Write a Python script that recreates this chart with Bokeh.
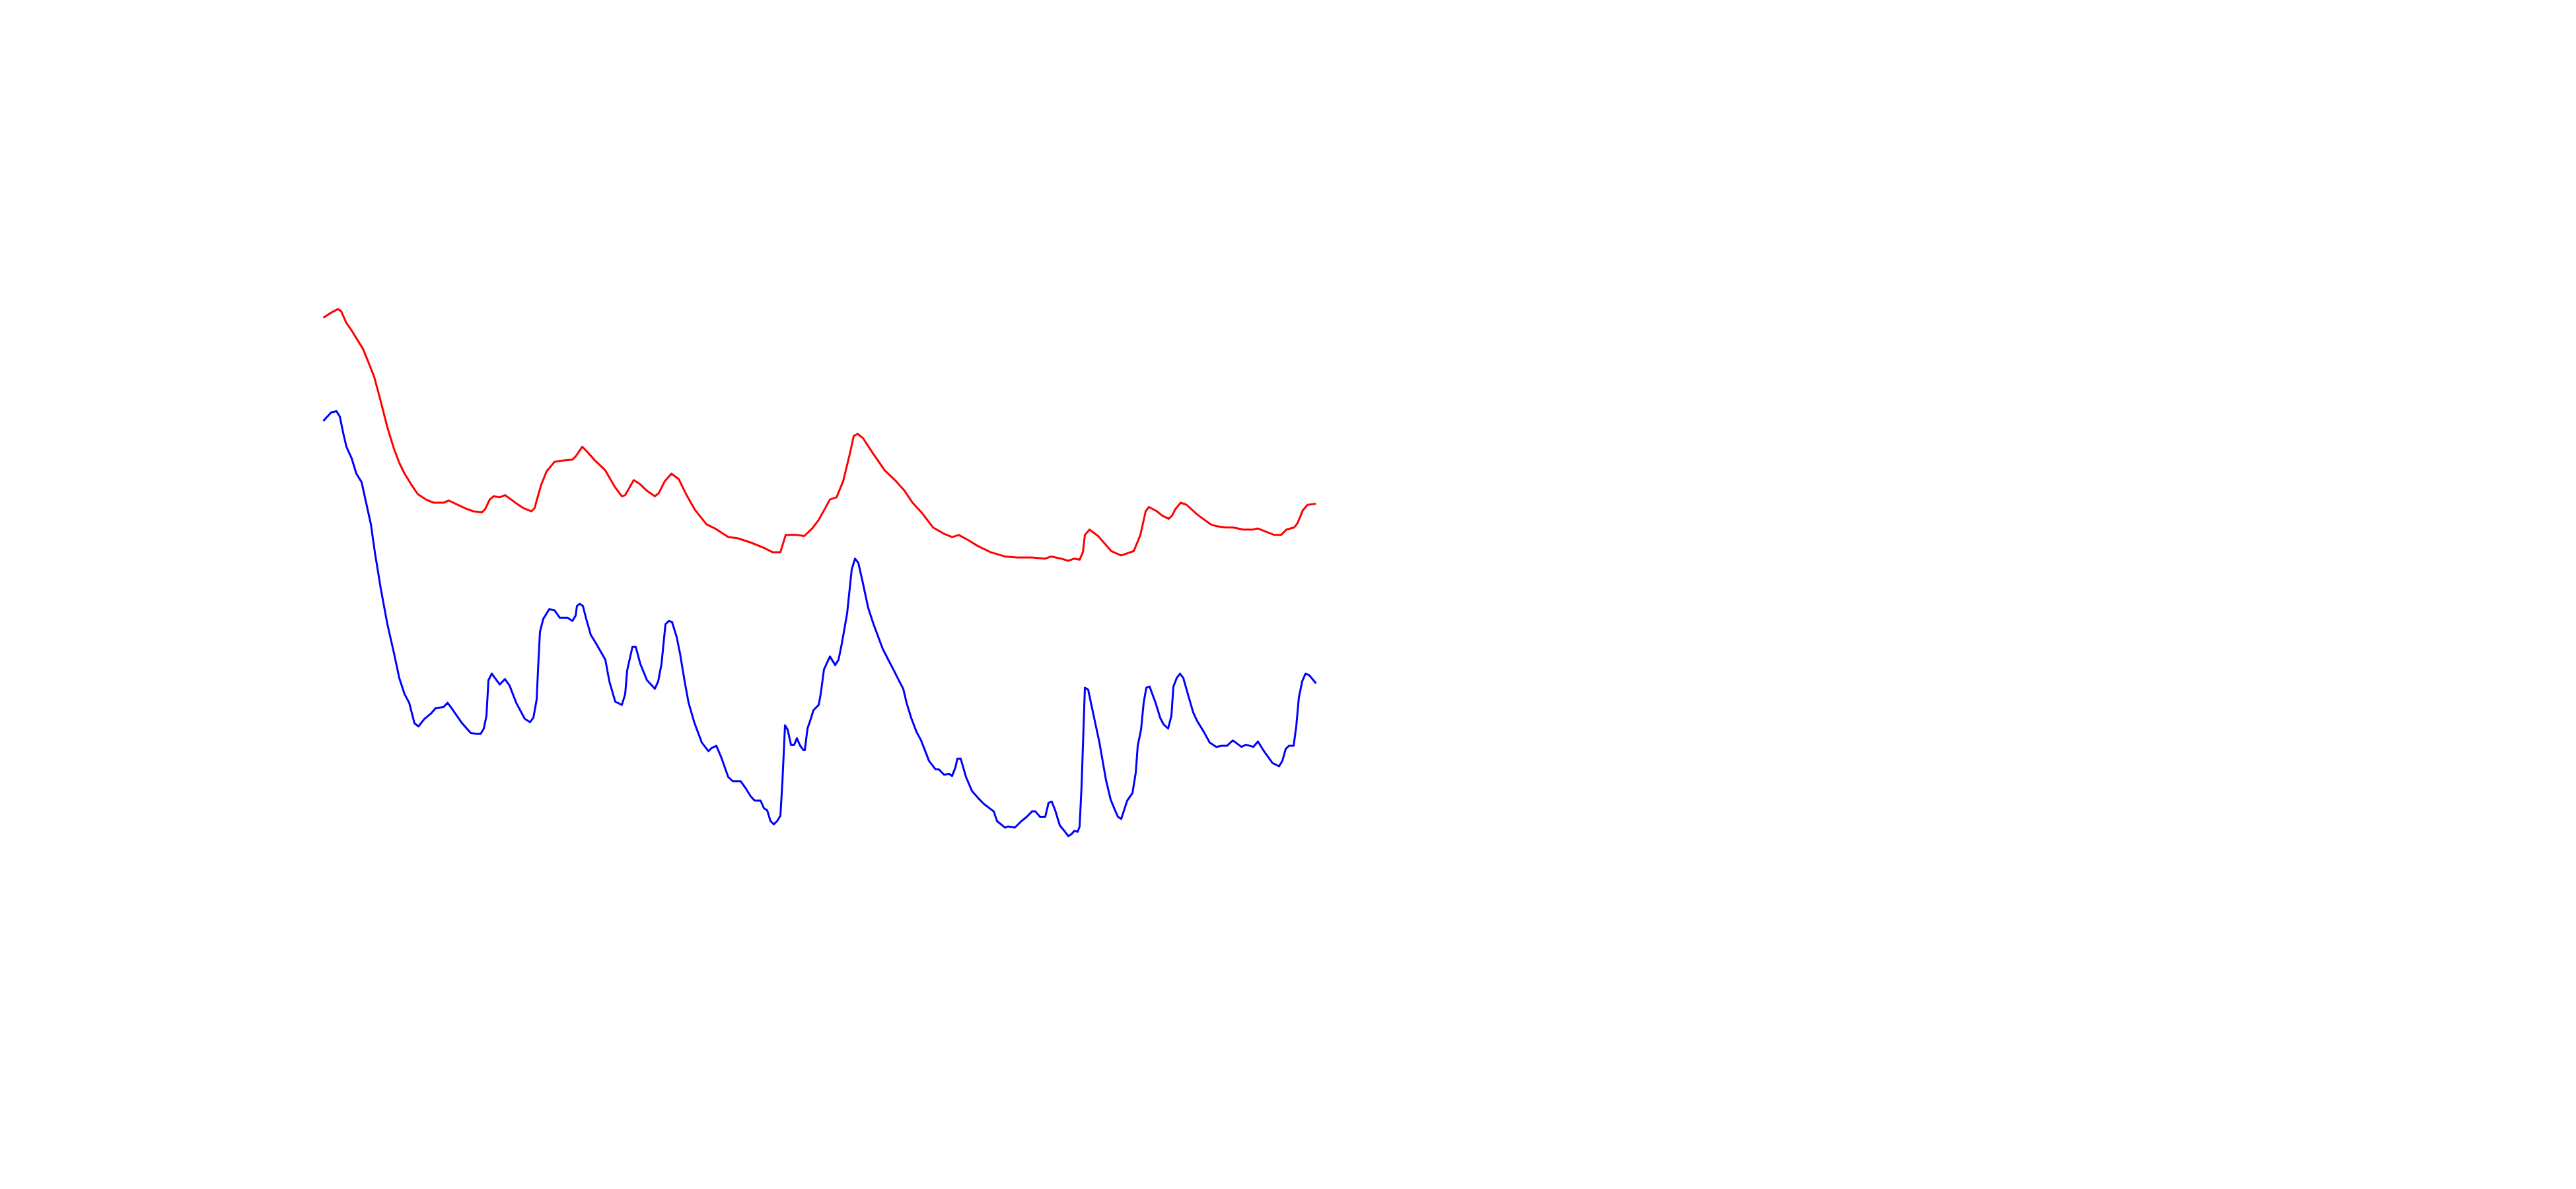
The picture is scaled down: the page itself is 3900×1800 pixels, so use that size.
from bokeh.plotting import figure
from bokeh.models import Range1d
from bokeh.embed import file_html
from bokeh.resources import INLINE

red_x = [0, 1.0, 2.2, 2.7, 3.5, 4.3, 5.2, 6.0, 6.8, 7.7,
         8.7, 9.7, 10.7, 11.5, 12.3, 13.3, 14.3, 15.5, 16.7, 18.2,
         19.0, 20.7, 21.8, 22.7, 24.0, 24.5, 25.2, 25.8, 26.7, 27.5,
         28.2, 29.3, 30.3, 31.5, 32.0, 32.3, 33.0, 33.8, 35.0, 36.0,
         37.7, 38.2, 39.2, 40.0, 41.0, 42.7, 44.2, 45.2, 45.7, 47.0,
         48.0, 49.0, 50.2, 50.8, 51.7, 52.7, 53.8, 55.0, 56.3, 58.0,
         59.3, 61.3, 62.7, 64.7, 66.7, 68.0, 69.2, 69.5, 70.0, 71.0,
         71.7, 72.8, 74.0, 75.0, 76.0, 76.7, 77.7, 78.7, 79.7, 80.3,
         80.9, 81.7, 83.2, 85.0, 86.7, 88.0, 89.2, 90.7, 92.3, 94.0,
         95.2, 96.2, 97.7, 99.0, 101.0, 103.2, 105.0, 107.3, 109.3, 110.2,
         111.7, 112.8, 113.7, 114.5, 115.0, 115.3, 116.0, 117.3, 119.3, 120.8,
         122.7, 123.7, 124.5, 125.0, 126.2, 127.0, 128.0, 128.5, 129.0, 129.8,
         130.7, 132.3, 134.3, 135.3, 136.7, 137.7, 139.3, 140.7, 141.5, 142.7,
         144.0, 145.0, 145.8, 147.0, 147.5, 148.3, 149.0, 150.3]
red_y = [83.5, 83.9, 84.3, 84.1, 83.0, 82.3, 81.4, 80.6, 79.4, 78.0,
         75.7, 73.3, 71.3, 70.0, 69.0, 68.0, 67.1, 66.6, 66.3, 66.3,
         66.5, 66.0, 65.7, 65.5, 65.4, 65.7, 66.6, 66.9, 66.8, 67.0,
         66.7, 66.2, 65.8, 65.5, 65.8, 66.5, 68.0, 69.2, 70.1, 70.2,
         70.3, 70.6, 71.5, 71.0, 70.3, 69.3, 67.7, 66.9, 67.0, 68.4,
         68.0, 67.4, 66.9, 67.2, 68.3, 69.0, 68.5, 67.0, 65.6, 64.3,
         63.9, 63.1, 63.0, 62.6, 62.1, 61.7, 61.7, 62.3, 63.3, 63.3,
         63.3, 63.2, 63.9, 64.7, 65.8, 66.6, 66.8, 68.3, 70.8, 72.5,
         72.7, 72.3, 70.9, 69.3, 68.3, 67.4, 66.3, 65.3, 64.0, 63.4,
         63.1, 63.3, 62.8, 62.3, 61.7, 61.3, 61.2, 61.2, 61.1, 61.3,
         61.1, 60.9, 61.1, 61.0, 61.7, 63.3, 63.8, 63.2, 61.8, 61.4,
         61.8, 63.3, 65.5, 65.9, 65.5, 65.1, 64.8, 65.1, 65.7, 66.3,
         66.1, 65.2, 64.3, 64.1, 64.0, 64.0, 63.8, 63.8, 63.9, 63.6,
         63.3, 63.3, 63.8, 64.0, 64.4, 65.6, 66.1, 66.2]

blue_x = [0, 1.2, 2.0, 2.5, 3.0, 3.5, 4.3, 5.0, 5.8, 6.3,
          7.2, 7.8, 8.7, 9.7, 10.7, 11.5, 12.3, 13.0, 13.8, 14.4,
          15.3, 16.3, 17.0, 18.2, 18.8, 19.3, 20.2, 21.0, 22.3, 23.2,
          23.8, 24.3, 24.7, 25.0, 25.5, 26.7, 27.5, 28.2, 29.2, 30.5,
          31.3, 31.8, 32.3, 32.5, 32.8, 33.3, 34.2, 35.0, 35.8, 37.0,
          37.7, 38.2, 38.4, 38.8, 39.3, 39.8, 40.5, 41.3, 42.7, 43.3,
          44.2, 45.2, 45.7, 46.0, 46.8, 47.3, 48.0, 49.0, 50.2, 50.7,
          51.2, 51.8, 52.3, 52.8, 53.5, 54.0, 54.7, 55.3, 56.2, 57.3,
          58.3, 58.8, 59.5, 60.2, 61.3, 62.0, 63.2, 64.0, 64.7, 65.3,
          66.2, 66.7, 67.2, 67.7, 68.2, 68.7, 69.2, 69.5, 69.9, 70.3,
          70.8, 71.3, 71.7, 72.2, 72.7, 72.9, 73.3, 73.8, 74.2, 75.0,
          75.3, 75.8, 76.7, 77.5, 78.0, 78.5, 79.3, 80.0, 80.5, 81.0,
          81.7, 82.5, 83.3, 84.7, 85.7, 86.3, 87.2, 87.8, 88.3, 89.0,
          89.8, 90.5, 91.7, 92.7, 93.2, 94.0, 94.7, 95.2, 95.7, 96.0,
          96.5, 97.3, 98.2, 99.2, 100.0, 101.5, 102.0, 103.2, 103.7, 104.7,
          105.7, 106.5, 107.3, 107.8, 108.5, 109.3, 109.8, 110.3, 110.8, 111.5,
          112.3, 112.8, 113.3, 113.7, 114.2, 114.5, 114.8, 115.3, 115.8, 116.7,
          117.5, 118.5, 119.2, 119.8, 120.3, 120.8, 121.7, 122.5, 123.0, 123.3,
          123.8, 124.2, 124.6, 125.1, 126.0, 126.7, 127.2, 127.9, 128.4, 128.7,
          129.2, 129.7, 130.2, 130.8, 131.7, 132.3, 133.3, 134.2, 135.2, 136.0,
          136.8, 137.7, 139.0, 139.7, 140.8, 141.5, 142.3, 143.7, 144.7, 145.2,
          145.7, 146.2, 146.9, 147.3, 147.7, 148.2, 148.7, 149.2, 150.3]
blue_y = [73.9, 74.7, 74.8, 74.3, 72.8, 71.5, 70.4, 69.0, 68.2, 66.8,
          64.3, 61.7, 58.3, 55.0, 52.3, 50.0, 48.5, 47.7, 45.8, 45.5,
          46.2, 46.7, 47.2, 47.3, 47.7, 47.3, 46.5, 45.8, 44.9, 44.8,
          44.8, 45.3, 46.5, 49.8, 50.4, 49.4, 49.9, 49.3, 47.7, 46.2,
          45.9, 46.3, 48.0, 50.7, 54.3, 55.5, 56.4, 56.3, 55.6, 55.6,
          55.3, 55.8, 56.7, 56.9, 56.7, 55.5, 54.0, 53.2, 51.7, 49.7,
          47.8, 47.5, 48.5, 50.7, 52.9, 52.9, 51.3, 49.8, 49.0, 49.7,
          51.3, 55.0, 55.3, 55.2, 53.8, 52.3, 49.7, 47.7, 45.8, 44.0,
          43.2, 43.5, 43.7, 42.7, 40.8, 40.4, 40.4, 39.7, 39.0, 38.6,
          38.6, 37.9, 37.7, 36.7, 36.4, 36.7, 37.2, 40.3, 45.6, 45.2,
          43.8, 43.8, 44.4, 43.7, 43.3, 43.3, 45.3, 46.2, 47.0, 47.5,
          48.5, 50.8, 52.0, 51.2, 51.7, 53.2, 56.0, 60.1, 61.1, 60.7,
          58.8, 56.5, 55.0, 52.7, 51.5, 50.8, 49.7, 49.0, 47.7, 46.3,
          45.0, 44.2, 42.3, 41.5, 41.5, 41.0, 41.1, 40.9, 41.7, 42.5,
          42.5, 40.8, 39.5, 38.8, 38.3, 37.6, 36.7, 36.1, 36.2, 36.1,
          36.7, 37.1, 37.6, 37.6, 37.1, 37.1, 38.4, 38.5, 37.7, 36.3,
          35.7, 35.3, 35.5, 35.8, 35.7, 36.2, 40.0, 49.1, 48.9, 46.3,
          44.0, 40.5, 38.7, 37.8, 37.1, 36.9, 38.6, 39.3, 41.2, 43.7,
          45.2, 47.7, 49.1, 49.2, 47.7, 46.3, 45.7, 45.3, 46.5, 49.2,
          50.0, 50.4, 50.0, 48.7, 46.8, 46.0, 45.0, 44.0, 43.6, 43.7,
          43.7, 44.2, 43.6, 43.8, 43.6, 44.1, 43.3, 42.1, 41.8, 42.3,
          43.4, 43.7, 43.7, 45.5, 48.2, 49.7, 50.4, 50.3, 49.5]

n_r = min(len(red_x), len(red_y))
n_b = min(len(blue_x), len(blue_y))

p = figure(width=3884, height=1784, output_backend="svg", toolbar_location=None,
           x_range=Range1d(-48.9, 339.5), y_range=Range1d(3.45, 113.0),
           min_border=0)
p.axis.visible = False
p.grid.visible = False
p.outline_line_color = None
p.background_fill_color = "white"
p.border_fill_color = "white"

p.line(red_x[:n_r], red_y[:n_r], line_color="#ff0000", line_width=3, line_join="round")
p.line(blue_x[:n_b], blue_y[:n_b], line_color="#0000ff", line_width=3, line_join="round")

open("out.html", "w").write(file_html(p, INLINE))
